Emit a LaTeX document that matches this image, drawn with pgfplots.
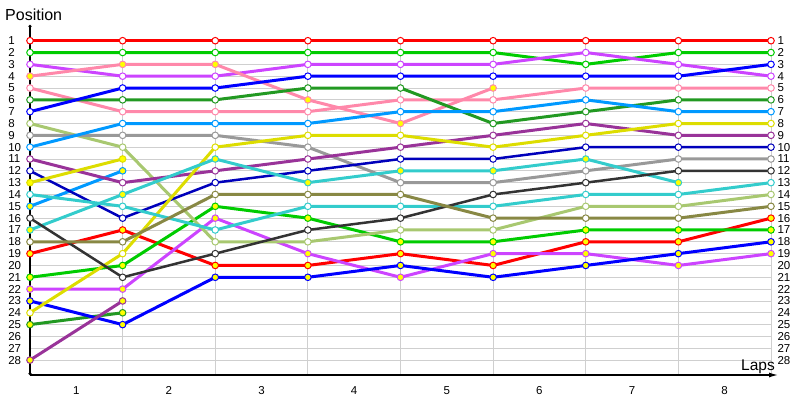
\documentclass[border=0pt]{standalone}
\usepackage{pgfplots}
\pgfplotsset{compat=1.18}
\usepackage{fontspec}
\setmainfont{Liberation Sans}
\usetikzlibrary{arrows.meta}
\definecolor{cRed}{HTML}{FF0000}
\definecolor{cGreen}{HTML}{00CC00}
\definecolor{cViolet}{HTML}{CC44FF}
\definecolor{cPink}{HTML}{FF88AA}
\definecolor{cDkGreen}{HTML}{229922}
\definecolor{cBlue}{HTML}{0000FF}
\definecolor{cLtGreen}{HTML}{A8C870}
\definecolor{cGray}{HTML}{999999}
\definecolor{cSky}{HTML}{0099FF}
\definecolor{cPurple}{HTML}{993399}
\definecolor{cDkBlue}{HTML}{0000BB}
\definecolor{cYellow}{HTML}{DDDD00}
\definecolor{cCyan}{HTML}{33CCCC}
\definecolor{cBlack}{HTML}{333333}
\definecolor{cOlive}{HTML}{888844}
\definecolor{cMarkY}{HTML}{FFFF00}
\definecolor{cGrid}{HTML}{CFCFCF}
\pgfplotsset{
 drvW/.style={line width=3pt, color=#1, mark=*, mark size=3.3pt, mark options={fill=white, draw=#1, line width=1pt, solid}},
 drvY/.style={line width=3pt, color=#1, mark=*, mark size=3.3pt, mark options={fill=cMarkY, draw=#1, line width=1pt, solid}},
}
\begin{document}
\begin{tikzpicture}
\begin{axis}[
 at={(30pt,25pt)}, anchor=south west, scale only axis, width=741pt, height=334.3pt,
 xmin=0, xmax=8, ymin=1, ymax=29.26, y dir=reverse,
 axis x line=bottom, axis y line=left,
 x axis line style={line width=1.2pt, -{Latex[length=9pt,width=5pt]}, shorten >=-7pt},
 y axis line style={line width=1.2pt, {Circle[length=3pt]}-{Circle[length=3pt]}, shorten <=-15.7pt},
 xtick={1,...,8}, xticklabels={}, xtick style={draw=none},
 extra x ticks={0.5,1.5,2.5,3.5,4.5,5.5,6.5,7.5},
 extra x tick labels={1,2,3,4,5,6,7,8},
 extra x tick style={grid=none, tick style={draw=none}, ticklabel style={yshift=-7pt}},
 ytick={1,...,28}, ytick style={black, line width=0.6pt}, major tick length=2.5pt, tick align=center,
 yticklabel style={anchor=west, xshift=-24pt},
 grid=major, major grid style={cGrid, line width=0.8pt},
 /pgf/number format/assume math mode=true,
 tick label style={font=\fontsize{11.5}{12}\selectfont},
 clip=false, set layers, mark layer=axis foreground,
]
\addplot[drvW=cRed] coordinates {(0,1)(1,1)(2,1)(3,1)(4,1)(5,1)(6,1)(7,1)(8,1)};
\addplot[drvY=cRed] coordinates {(0,19)(1,17)(2,20)(3,20)(4,19)(5,20)(6,18)(7,18)(8,16)};
\addplot[drvW=cGreen] coordinates {(0,2)(1,2)(2,2)(3,2)(4,2)(5,2)(6,3)(7,2)(8,2)};
\addplot[drvY=cGreen] coordinates {(0,21)(1,20)(2,15)(3,16)(4,18)(5,18)(6,17)(7,17)(8,17)};
\addplot[drvW=cViolet] coordinates {(0,3)(1,4)(2,4)(3,3)(4,3)(5,3)(6,2)(7,3)(8,4)};
\addplot[drvY=cViolet] coordinates {(0,22)(1,22)(2,16)(3,19)(4,21)(5,19)(6,19)(7,20)(8,19)};
\addplot[drvY=cPink] coordinates {(0,4)(1,3)(2,3)(3,6)(4,8)(5,5)};
\addplot[drvW=cPink] coordinates {(0,5)(1,7)(2,7)(3,7)(4,6)(5,6)(6,5)(7,5)(8,5)};
\addplot[drvW=cDkGreen] coordinates {(0,6)(1,6)(2,6)(3,5)(4,5)(5,8)(6,7)(7,6)(8,6)};
\addplot[drvY=cDkGreen] coordinates {(0,25)(1,24)};
\addplot[drvW=cBlue] coordinates {(0,7)(1,5)(2,5)(3,4)(4,4)(5,4)(6,4)(7,4)(8,3)};
\addplot[drvY=cBlue] coordinates {(0,23)(1,25)(2,21)(3,21)(4,20)(5,21)(6,20)(7,19)(8,18)};
\addplot[drvW=cLtGreen] coordinates {(0,8)(1,10)(2,18)(3,18)(4,17)(5,17)(6,15)(7,15)(8,14)};
\addplot[drvW=cGray] coordinates {(0,9)(1,9)(2,9)(3,10)(4,13)(5,13)(6,12)(7,11)(8,11)};
\addplot[drvW=cSky] coordinates {(0,10)(1,8)(2,8)(3,8)(4,7)(5,7)(6,6)(7,7)(8,7)};
\addplot[drvY=cSky] coordinates {(0,15)(1,12)};
\addplot[drvW=cPurple] coordinates {(0,11)(1,13)(2,12)(3,11)(4,10)(5,9)(6,8)(7,9)(8,9)};
\addplot[drvY=cPurple] coordinates {(0,28)(1,23)};
\addplot[drvW=cDkBlue, line width=2.5pt] coordinates {(0,12)(1,16)(2,13)(3,12)(4,11)(5,11)(6,10)(7,10)(8,10)};
\addplot[drvY=cYellow] coordinates {(0,13)(1,11)};
\addplot[drvW=cYellow] coordinates {(0,24)(1,19)(2,10)(3,9)(4,9)(5,10)(6,9)(7,8)(8,8)};
\addplot[drvW=cCyan] coordinates {(0,14)(1,15)(2,17)(3,15)(4,15)(5,15)(6,14)(7,14)(8,13)};
\addplot[drvY=cCyan] coordinates {(0,17)(1,14)(2,11)(3,13)(4,12)(5,12)(6,11)(7,13)};
\addplot[drvW=cBlack, line width=2.5pt] coordinates {(0,16)(1,21)(2,19)(3,17)(4,16)(5,14)(6,13)(7,12)(8,12)};
\addplot[drvW=cOlive] coordinates {(0,18)(1,18)(2,14)(3,14)(4,14)(5,16)(6,16)(7,16)(8,15)};
\end{axis}
\begin{axis}[
 at={(30pt,25pt)}, anchor=south west, scale only axis, width=741pt, height=350pt,
 xmin=0, xmax=8, ymin=-0.33, ymax=29.26, y dir=reverse,
 axis x line=none, axis y line*=right, y axis line style={draw=none},
 xtick=\empty, ytick={1,...,28}, ytick style={draw=none},
 /pgf/number format/assume math mode=true,
 tick label style={font=\fontsize{11.5}{12}\selectfont},
 yticklabel style={anchor=west, xshift=3pt},
]
\addplot[draw=none, forget plot] coordinates {(0,1)(8,28)};
\end{axis}
\node[anchor=base west, font=\fontsize{16}{18}\selectfont, inner sep=0] at (5pt,379pt) {Position};
\node[anchor=base east, font=\fontsize{15.5}{18}\selectfont, inner sep=0] at (775pt,30pt) {Laps};
\pgfresetboundingbox
\useasboundingbox (0,0) rectangle (800pt,400pt);
\end{tikzpicture}
\end{document}
